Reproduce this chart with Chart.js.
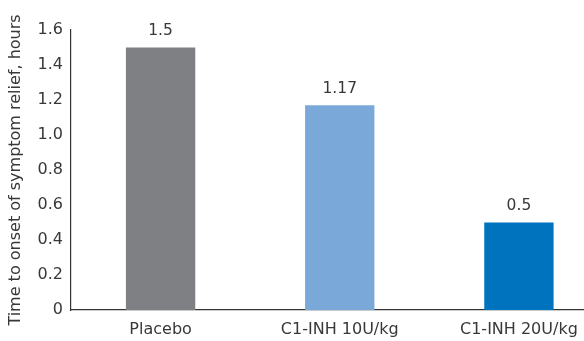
<!DOCTYPE html>
<html>
<head>
<meta charset="utf-8">
<script src="https://cdn.jsdelivr.net/npm/chart.js@4/dist/chart.umd.min.js"></script>
<style>
  html, body { margin: 0; padding: 0; overflow: hidden; background: #fff; }
  #wrap { position: relative; width: 612px; height: 341px; }
</style>
</head>
<body>
<div id="wrap"><canvas id="reliefChart"></canvas></div>
<script>
const categories = ['Placebo', 'C1-INH 10U/kg', 'C1-INH 20U/kg'];
const hoursToRelief = [1.5, 1.17, 0.5];
const valueLabels = ['1.5', '1.17', '0.5'];
const yTicks = [0, 0.2, 0.4, 0.6, 0.8, 1.0, 1.2, 1.4, 1.6];
const barColors = ['#7f8083', '#7aa8d9', '#0073bf'];

const TEXT = '#383838';
const FONT = 'DejaVu Sans';

// labels above bars, drawn from the bar elements
const valueLabelPlugin = {
    id: 'valueLabels',
    afterDatasetsDraw(chart) {
        const ctx = chart.ctx;
        const meta = chart.getDatasetMeta(0);
        ctx.save();
        ctx.font = `15.5px "${FONT}"`;
        ctx.fillStyle = TEXT;
        ctx.textAlign = 'center';
        ctx.textBaseline = 'bottom';
        meta.data.forEach((bar, i) => {
            ctx.fillText(valueLabels[i], bar.x, bar.y - 9);
        });
        ctx.restore();
    }
};

function initChart() {
    Chart.defaults.color = TEXT;
    Chart.defaults.font.family = FONT;

    const ctx = document.getElementById('reliefChart').getContext('2d');
    new Chart(ctx, {
        type: 'bar',
        data: {
            labels: categories,
            datasets: [{
                data: hoursToRelief,
                backgroundColor: barColors,
                borderWidth: 0,
                barPercentage: 0.387,
                categoryPercentage: 1
            }]
        },
        options: {
            responsive: true,
            maintainAspectRatio: false,
            animation: false,
            layout: { padding: { top: 30, right: 3.5, left: 0, bottom: 0 } },
            plugins: { legend: { display: false }, tooltip: { enabled: false } },
            scales: {
                x: {
                    grid: { display: false, drawTicks: false },
                    border: { color: '#333', width: 1.2 },
                    ticks: { font: { size: 16 }, padding: 10, maxRotation: 0 },
                    afterFit(scale) { scale.height = 31; }
                },
                y: {
                    min: 0,
                    max: 1.6,
                    afterBuildTicks(scale) { scale.ticks = yTicks.map(v => ({ value: v })); },
                    grid: { display: false, drawTicks: false },
                    border: { color: '#333', width: 1.2 },
                    ticks: {
                        font: { size: 16 },
                        padding: 8,
                        callback: v => v === 0 ? '0' : v.toFixed(1)
                    },
                    title: {
                        display: true,
                        text: 'Time to onset of symptom relief, hours',
                        font: { size: 16 },
                        padding: { top: 6, bottom: 0 }
                    },
                    afterFit(scale) { scale.width = 71; }
                }
            }
        },
        plugins: [valueLabelPlugin]
    });
}

window.onload = initChart;
</script>
</body>
</html>
